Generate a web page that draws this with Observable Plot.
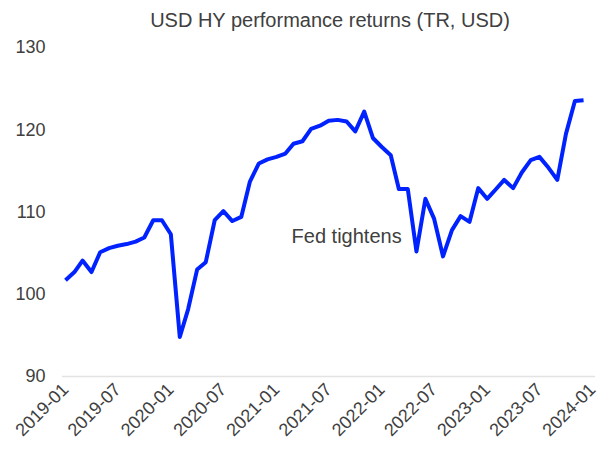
<!DOCTYPE html>
<html>
<head>
<meta charset="utf-8">
<script src="https://cdn.jsdelivr.net/npm/d3@7"></script>
<script src="https://cdn.jsdelivr.net/npm/@observablehq/plot@0.6"></script>
<style>
  html, body { margin: 0; padding: 0; background: #fff; }
  #title { height: 36px; line-height: 40px; box-sizing: border-box; padding-left: 55px; text-align: center;
    font-family: "Liberation Sans", Arial, sans-serif; font-size: 20px; color: #404040; white-space: nowrap; }
</style>
</head>
<body>
<div id="title">USD HY performance returns (TR, USD)</div>
<div id="chart"></div>
<script>
const startMonth = "2019-01";
const values = [
  101.7, 102.7, 104.1, 102.7, 105.1, 105.6, 105.9, 106.1, 106.4, 106.9, 109.0, 109.0,
  107.3, 94.8, 98.2, 103.0, 103.9, 109.0, 110.1, 108.9, 109.4, 113.7, 115.9, 116.4,
  116.7, 117.1, 118.3, 118.6, 120.1, 120.5, 121.1, 121.2, 121.0, 119.8, 122.2, 119.0,
  117.9, 116.9, 112.8, 112.8, 105.2, 111.6, 109.2, 104.6, 107.8, 109.5, 108.8, 112.9,
  111.6, 112.8, 113.9, 112.9, 114.8, 116.3, 116.7, 115.4, 113.9, 119.5, 123.5, 123.6
];
const xTickLabels = ["2019-01","2019-07","2020-01","2020-07","2021-01","2021-07","2022-01","2022-07","2023-01","2023-07","2024-01"];
const yTicks = [90, 100, 110, 120, 130];
const annotationText = "Fed tightens";
const annotationDate = "2021-09";
const annotationValue = 107;

const parse = d3.utcParse("%Y-%m");
const start = parse(startMonth);
const data = values.map((v, i) => ({date: d3.utcMonth.offset(start, i), value: v}));
const tickDates = xTickLabels.map(parse);
const fmt = d3.utcFormat("%Y-%m");

const chart = Plot.plot({
  width: 605,
  height: 414,
  marginLeft: 65,
  marginRight: 13,
  marginTop: 11,
  marginBottom: 74,
  style: {fontFamily: "'Liberation Sans', Arial, sans-serif", fontSize: "18px", color: "#404040", background: "#fff"},
  x: {type: "utc", domain: [tickDates[0], tickDates[tickDates.length - 1]]},
  y: {domain: [90, 130]},
  marks: [
    Plot.ruleY([90], {stroke: "#e3e3e3", strokeWidth: 1.5, insetLeft: -3, insetRight: -3}),
    Plot.axisY({ticks: yTicks, tickSize: 0, tickPadding: 20, label: null, fontSize: 18}),
    Plot.axisX({ticks: tickDates, tickFormat: fmt, tickSize: 0, tickPadding: 10, tickRotate: -45, label: null, fontSize: 18}),
    Plot.line(data, {x: "date", y: "value", stroke: "#0022ff", strokeWidth: 4, strokeLinejoin: "round", strokeLinecap: "butt"}),
    Plot.text([annotationText], {x: () => parse(annotationDate), y: () => annotationValue, text: d => d, fontSize: 20, fill: "#404040"})
  ]
});
document.getElementById("chart").appendChild(chart);
</script>
</body>
</html>
